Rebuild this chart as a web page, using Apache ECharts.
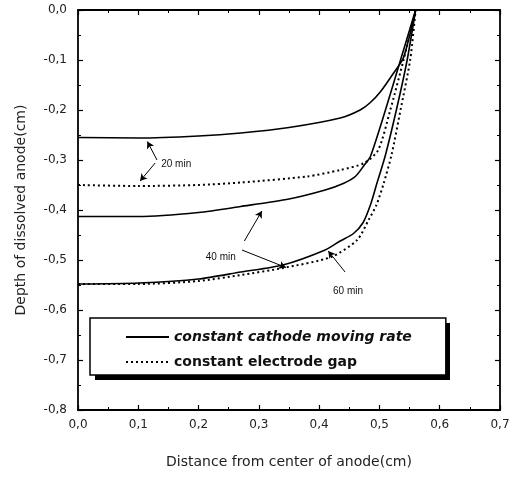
<!DOCTYPE html>
<html><head><meta charset="utf-8">
<script src="https://cdn.jsdelivr.net/npm/echarts@6/dist/echarts.min.js"></script>
<style>html,body{margin:0;padding:0;background:#fff}#c{width:517px;height:482px}</style>
</head><body><div id="c"></div>
<script>
// ---- data ----
const solid20 = [[0,-0.255],[0.1,-0.256],[0.2,-0.252],[0.27,-0.246],[0.35,-0.235],[0.435,-0.216],[0.468,-0.2],[0.485,-0.185],[0.502,-0.163],[0.523,-0.127],[0.54,-0.095],[0.56,0]];
const dotted20 = [[0,-0.35],[0.1,-0.352],[0.2,-0.35],[0.27,-0.345],[0.38,-0.333],[0.435,-0.32],[0.475,-0.306],[0.498,-0.28],[0.518,-0.2],[0.54,-0.1],[0.56,0]];
const solid40 = [[0,-0.413],[0.1,-0.413],[0.2,-0.405],[0.27,-0.393],[0.35,-0.378],[0.41,-0.36],[0.44,-0.347],[0.46,-0.333],[0.475,-0.31],[0.485,-0.293],[0.51,-0.2],[0.535,-0.1],[0.56,0]];
const solid60 = [[0,-0.548],[0.1,-0.546],[0.2,-0.538],[0.27,-0.524],[0.34,-0.51],[0.41,-0.48],[0.435,-0.462],[0.457,-0.447],[0.473,-0.425],[0.485,-0.39],[0.495,-0.35],[0.51,-0.29],[0.53,-0.19],[0.546,-0.1],[0.56,0]];
const dotted60 = [[0,-0.548],[0.1,-0.548],[0.2,-0.542],[0.27,-0.53],[0.34,-0.516],[0.42,-0.494],[0.463,-0.46],[0.482,-0.42],[0.495,-0.39],[0.507,-0.347],[0.52,-0.29],[0.535,-0.2],[0.551,-0.1],[0.56,0]];
const seriesNames = ['constant cathode moving rate','constant electrode gap'];
const xTitle = 'Distance from center of anode(cm)';
const yTitle = 'Depth of dissolved anode(cm)';
// annotation arrows: [tail, tip] in data units
const arrows = [
  [[0.131,-0.300],[0.115,-0.263]],
  [[0.128,-0.306],[0.103,-0.342]],
  [[0.276,-0.462],[0.305,-0.402]],
  [[0.272,-0.480],[0.345,-0.515]],
  [[0.443,-0.524],[0.415,-0.482]]
];
const notes = [
  {text:'20 min', at:[0.138,-0.308]},
  {text:'40 min', at:[0.212,-0.494]},
  {text:'60 min', at:[0.423,-0.562]}
];

const fmt = v => (Math.abs(v) < 1e-9 ? 0 : v).toFixed(1).replace('.', ',');
const chart = echarts.init(document.getElementById('c'), null, {renderer:'canvas'});
const axisLineStyle = {color:'#000', width:1.8};
const mkX = (pos, show) => ({
  type:'value', position:pos, min:0, max:0.7, interval:0.1,
  axisLine:{show:true, onZero:false, lineStyle:axisLineStyle},
  axisTick:{show:true, inside:true, length:5, lineStyle:{color:'#000', width:1.2}},
  minorTick:{show:true, splitNumber:2, length:3, lineStyle:{color:'#000', width:1}},
  splitLine:{show:false},
  axisLabel:{show:show, formatter:fmt, color:'#222', fontFamily:'DejaVu Sans', fontSize:12, margin:9},
  name: show ? xTitle : '', nameLocation:'middle', nameGap:45,
  nameTextStyle:{color:'#222', fontFamily:'DejaVu Sans', fontSize:14}
});
const mkY = (pos, show) => ({
  type:'value', position:pos, min:-0.8, max:0, interval:0.1,
  axisLine:{show:true, onZero:false, lineStyle:axisLineStyle},
  axisTick:{show:true, inside:true, length:5, lineStyle:{color:'#000', width:1.2}},
  minorTick:{show:true, splitNumber:2, length:3, lineStyle:{color:'#000', width:1}},
  splitLine:{show:false},
  axisLabel:{show:show, formatter:fmt, color:'#222', fontFamily:'DejaVu Sans', fontSize:12, margin:11},
  name: show ? yTitle : '', nameLocation:'middle', nameGap:50,
  nameTextStyle:{color:'#222', fontFamily:'DejaVu Sans', fontSize:14}
});
const lineS = (name, data, dotted) => ({
  name, type:'line', data, showSymbol:false, symbol:'none', smooth:0.25,
  xAxisIndex:0, yAxisIndex:0, silent:true,
  itemStyle:{color:'#000'},
  lineStyle:{color:'#000', width: dotted ? 2 : 1.6, type: dotted ? [2,3] : 'solid'}
});
const annoSeries = {
  name:'anno', type:'line', data:[], xAxisIndex:0, yAxisIndex:0, silent:true,
  markLine:{
    silent:true, animation:false, symbol:['none','arrow'], symbolSize:[6,7],
    lineStyle:{color:'#000', width:1, type:'solid'}, label:{show:false},
    data: arrows.map(a => [{coord:a[0]},{coord:a[1]}])
  },
  markPoint:{
    silent:true, animation:false, symbol:'circle', symbolSize:0,
    label:{show:true, position:'right', distance:0, formatter:'{b}', color:'#111', fontFamily:'Liberation Sans', fontSize:10},
    data: notes.map(n => ({name:n.text, coord:n.at}))
  }
};
chart.setOption({
  animation:false,
  backgroundColor:'#fff',
  grid:{left:78, top:10, right:17, bottom:72, containLabel:false},
  xAxis:[mkX('bottom', true), mkX('top', false)],
  yAxis:[mkY('left', true), mkY('right', false)],
  graphic:[{
    type:'rect', z:1, silent:true,
    shape:{x:95, y:323, width:355, height:57},
    style:{fill:'#000'}
  }],
  legend:{
    z:5,
    left:90, top:318, orient:'vertical', itemWidth:43, itemHeight:14, itemGap:11,
    padding:[12, 34, 6, 35],
    backgroundColor:'#fff', borderColor:'#000', borderWidth:1.5,
    selectedMode:false,
    itemStyle:{opacity:0},
    textStyle:{color:'#111', fontFamily:'DejaVu Sans', fontSize:14, fontWeight:'bold'},
    data:[{name:seriesNames[0], textStyle:{fontStyle:'italic'}}, {name:seriesNames[1]}]
  },
  series:[
    lineS(seriesNames[0], solid20, false),
    lineS(seriesNames[1], dotted20, true),
    lineS(seriesNames[0], solid40, false),
    lineS(seriesNames[0], solid60, false),
    lineS(seriesNames[1], dotted60, true),
    annoSeries
  ]
});
</script></body></html>
